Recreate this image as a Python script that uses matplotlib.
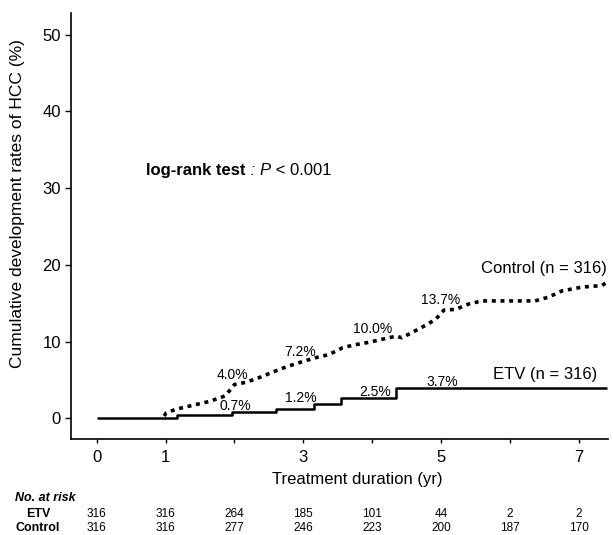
import matplotlib
matplotlib.use('Agg')
import matplotlib.pyplot as plt
from matplotlib.transforms import blended_transform_factory

plt.rcParams['font.family'] = ['Liberation Sans', 'DejaVu Sans']

# ---- data ----
etv_x = [0, 1.16, 1.97, 2.60, 3.16, 3.54, 4.34, 7.40]
etv_y = [0, 0.4, 0.8, 1.25, 1.9, 2.6, 4.0, 4.0]

ctrl_x = [0.98, 1.01, 1.16, 1.40, 1.64, 1.86, 1.93, 2.00, 2.17, 2.36, 2.55, 2.75,
          2.99, 3.18, 3.37, 3.57, 3.76, 3.95, 4.34, 4.43, 4.58, 4.77, 4.92, 5.04,
          5.21, 5.40, 5.59, 6.36, 6.56, 6.75, 7.04, 7.33, 7.40]
ctrl_y = [0.3, 0.7, 1.2, 1.7, 2.2, 2.9, 3.6, 4.4, 4.7, 5.3, 6.0, 6.7,
          7.4, 7.9, 8.3, 9.2, 9.6, 9.9, 10.7, 10.5, 11.2, 12.1, 12.9, 14.1,
          14.2, 14.9, 15.3, 15.3, 15.8, 16.6, 17.1, 17.3, 17.7]

etv_pct_labels = ['0.7%', '1.2%', '2.5%', '3.7%']
ctrl_pct_labels = ['4.0%', '7.2%', '10.0%', '13.7%']

risk_times = [0, 1, 2, 3, 4, 5, 6, 7]
etv_risk = [316, 316, 264, 185, 101, 44, 2, 2]
ctrl_risk = [316, 316, 277, 246, 223, 200, 187, 170]

x_ticks = [0, 1, 2, 3, 4, 5, 6, 7]
x_tick_labels = ['0', '1', '', '3', '', '5', '', '7']
y_ticks = [0, 10, 20, 30, 40, 50]

# ---- layout ----
etv_label_pos = [(2.02, 1.6), (2.96, 2.6), (4.04, 3.45), (5.01, 4.75)]
ctrl_label_pos = [(1.97, 5.65), (2.95, 8.7), (4.0, 11.6), (4.99, 15.4)]

fig = plt.figure(figsize=(6.13, 5.35), dpi=100)
ax = fig.add_axes([0.1153, 0.1789, 0.8765, 0.7968])

ax.step(etv_x, etv_y, where='post', color='black', lw=1.8, solid_capstyle='butt')
ax.plot(ctrl_x, ctrl_y, color='black', lw=2.6, linestyle=(0, (1.1, 1.3)),
        dash_capstyle='butt')

for (px, py), t in zip(etv_label_pos, etv_pct_labels):
    ax.text(px, py, t, ha='center', va='center', fontsize=10)
for (px, py), t in zip(ctrl_label_pos, ctrl_pct_labels):
    ax.text(px, py, t, ha='center', va='center', fontsize=10)

ax.text(6.51, 5.65, 'ETV (n = 316)', ha='center', va='center', fontsize=12)
ax.text(6.49, 19.5, 'Control (n = 316)', ha='center', va='center', fontsize=12,
        clip_on=False)

t1 = ax.text(0.72, 32.3, 'log-rank test', ha='left', va='center', fontsize=12,
             fontweight='bold')
t2 = ax.annotate(' : ', xy=(1, 0.5), xycoords=t1, ha='left', va='center',
                 fontsize=12, fontstyle='italic')
t3 = ax.annotate('P', xy=(1, 0.5), xycoords=t2, ha='left', va='center',
                 fontsize=12, fontstyle='italic')
ax.annotate(' < 0.001', xy=(1, 0.5), xycoords=t3, ha='left', va='center',
            fontsize=12)

ax.set_xlim(-0.376, 7.42)
ax.set_ylim(-2.74, 52.84)
ax.set_xticks(x_ticks)
ax.set_xticklabels(x_tick_labels)
ax.set_yticks(y_ticks)
for s in ['top', 'right']:
    ax.spines[s].set_visible(False)
for s in ['left', 'bottom']:
    ax.spines[s].set_linewidth(1.2)
ax.tick_params(axis='x', direction='out', length=3, width=1, pad=4.5, labelsize=12)
ax.tick_params(axis='y', direction='out', length=4, width=1, pad=3, labelsize=12)

ax.set_xlabel('Treatment duration (yr)', fontsize=12)
ax.xaxis.set_label_coords((357 - 70.7) / (608 - 70.7), (439.3 - 480) / (439.3 - 13))
ax.xaxis.label.set_va('center')
ax.set_ylabel('Cumulative development rates of HCC (%)', fontsize=12.5)
ax.yaxis.set_label_coords((18 - 70.7) / (608 - 70.7), (439.3 - 204) / (439.3 - 13))
ax.yaxis.label.set_va('center')

# number at risk table
trans = blended_transform_factory(ax.transData, fig.transFigure)
fig.text(15 / 613, 1 - 498.3 / 535, 'No. at risk', ha='left', va='center',
         fontsize=9, fontstyle='italic', fontweight='bold')
fig.text(38 / 613, 1 - 514.3 / 535, 'ETV', ha='center', va='center',
         fontsize=9, fontweight='bold')
fig.text(37.5 / 613, 1 - 528.3 / 535, 'Control', ha='center', va='center',
         fontsize=9, fontweight='bold')
for tx, a, b in zip(risk_times, etv_risk, ctrl_risk):
    ax.text(tx, 1 - 514.3 / 535, str(a), transform=trans, ha='center',
            va='center', fontsize=8.5, clip_on=False)
    ax.text(tx, 1 - 528.3 / 535, str(b), transform=trans, ha='center',
            va='center', fontsize=8.5, clip_on=False)

fig.savefig('out.png', dpi=100)
